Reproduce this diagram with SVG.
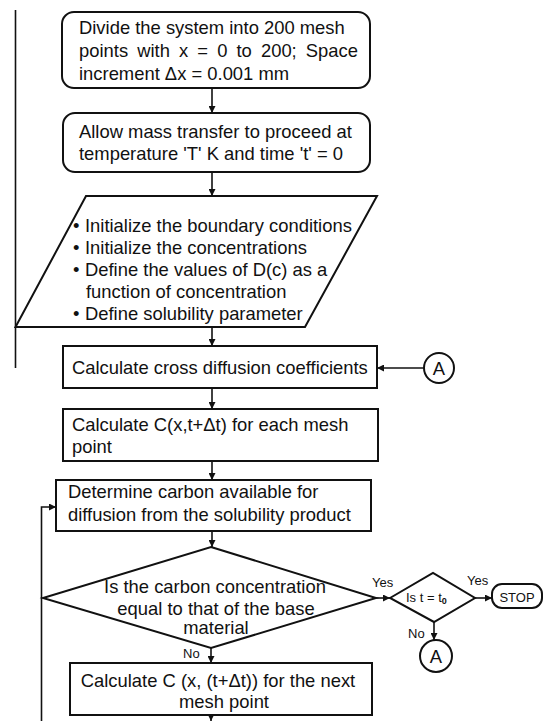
<svg xmlns="http://www.w3.org/2000/svg" width="543" height="721" viewBox="0 0 543 721">
<defs>
<marker id="ah" viewBox="0 0 10 10" refX="10" refY="5" markerWidth="7" markerHeight="7" markerUnits="userSpaceOnUse" orient="auto">
<path d="M0,0 L10,5 L0,10 z" fill="#111"/>
</marker>
<style>
.sh{fill:#fff;stroke:#111;stroke-width:2}
.t{font-family:"Liberation Sans",Arial,sans-serif;font-size:18.4px;fill:#111}
.s{font-family:"Liberation Sans",Arial,sans-serif;font-size:13px;fill:#111}
.c{text-anchor:middle}
.ln{fill:none;stroke:#111;stroke-width:1.6}
</style>
</defs>
<rect width="543" height="721" fill="#fff"/>
<g id="connectors">
<line class="ln" x1="15.5" y1="10" x2="15.5" y2="368"/>
<line class="ln" x1="212" y1="88" x2="212" y2="113" marker-end="url(#ah)"/>
<line class="ln" x1="212" y1="172" x2="212" y2="196" marker-end="url(#ah)"/>
<line class="ln" x1="212" y1="327" x2="212" y2="346" marker-end="url(#ah)"/>
<line class="ln" x1="424" y1="368" x2="377" y2="368" marker-end="url(#ah)"/>
<line class="ln" x1="212" y1="388" x2="212" y2="409" marker-end="url(#ah)"/>
<line class="ln" x1="212" y1="461" x2="212" y2="480" marker-end="url(#ah)"/>
<line class="ln" x1="212" y1="531" x2="212" y2="547" marker-end="url(#ah)"/>
<line class="ln" x1="376" y1="598" x2="390" y2="598" marker-end="url(#ah)"/>
<line class="ln" x1="475" y1="598" x2="492" y2="598" marker-end="url(#ah)"/>
<line class="ln" x1="434" y1="622" x2="434" y2="640" marker-end="url(#ah)"/>
<line class="ln" x1="211" y1="648" x2="211" y2="663" marker-end="url(#ah)"/>
<line class="ln" x1="211" y1="715" x2="211" y2="721" marker-end="url(#ah)"/>
<polyline class="ln" points="41.5,721 41.5,507 56,507" marker-end="url(#ah)"/>
<text class="s" x="372" y="587">Yes</text>
<text class="s" x="467" y="585">Yes</text>
<text class="s" x="408" y="638">No</text>
<text class="s" x="183" y="658">No</text>
</g>
<g id="n1">
<rect class="sh" x="62" y="12" width="308" height="76" rx="12"/>
<text class="t" x="79" y="34">Divide the system into 200 mesh</text>
<text class="t" x="79" y="57" word-spacing="4">points with x = 0 to 200; Space</text>
<text class="t" x="79" y="80">increment Δx = 0.001 mm</text>
</g>
<g id="n2">
<rect class="sh" x="63" y="113" width="307" height="59" rx="12"/>
<text class="t" x="79" y="138">Allow mass transfer to proceed at</text>
<text class="t" x="79" y="160">temperature 'T' K and time 't' = 0</text>
</g>
<g id="n3">
<polygon class="sh" points="86,196 377,196 305,327 15.5,327"/>
<text class="t" x="73" y="232">•</text><text class="t" x="85" y="232">Initialize the boundary conditions</text>
<text class="t" x="73" y="254">•</text><text class="t" x="85" y="254">Initialize the concentrations</text>
<text class="t" x="73" y="276">•</text><text class="t" x="85" y="276">Define the values of D(c) as a</text>
<text class="t" x="86" y="298">function of concentration</text>
<text class="t" x="73" y="320">•</text><text class="t" x="85" y="320">Define solubility parameter</text>
</g>
<g id="n4">
<rect class="sh" x="63" y="346" width="314" height="42"/>
<text class="t" x="72" y="374">Calculate cross diffusion coefficients</text>
</g>
<g id="a1">
<circle class="sh" cx="439" cy="368" r="15"/>
<text class="t c" x="439" y="375">A</text>
</g>
<g id="n5">
<rect class="sh" x="63" y="409" width="315" height="52"/>
<text class="t" x="72" y="431">Calculate C(x,t+Δt) for each mesh</text>
<text class="t" x="72" y="453">point</text>
</g>
<g id="n6">
<rect class="sh" x="56" y="480" width="315" height="51"/>
<text class="t" x="68" y="498">Determine carbon available for</text>
<text class="t" x="68" y="521">diffusion from the solubility product</text>
</g>
<g id="d1">
<polygon class="sh" points="211,547 376,598 211,648 43,598"/>
<text class="t c" x="215" y="593">Is the carbon concentration</text>
<text class="t c" x="216" y="615">equal to that of the base</text>
<text class="t c" x="216" y="634">material</text>
</g>
<g id="d2">
<polygon class="sh" points="390,598 433,573 475,598 434,622"/>
<text class="s" x="406" y="602">Is t = t<tspan font-size="9" dy="2" font-weight="bold">0</tspan></text>
</g>
<g id="stop">
<rect class="sh" x="492" y="584" width="50" height="24" rx="10"/>
<text class="s c" x="517" y="602">STOP</text>
</g>
<g id="a2">
<circle class="sh" cx="436" cy="656" r="16"/>
<text class="t c" x="436" y="663">A</text>
</g>
<g id="n7">
<rect class="sh" x="70" y="663" width="302" height="52"/>
<text class="t c" x="218" y="687">Calculate C (x, (t+Δt)) for the next</text>
<text class="t c" x="224" y="708">mesh point</text>
</g>
</svg>
